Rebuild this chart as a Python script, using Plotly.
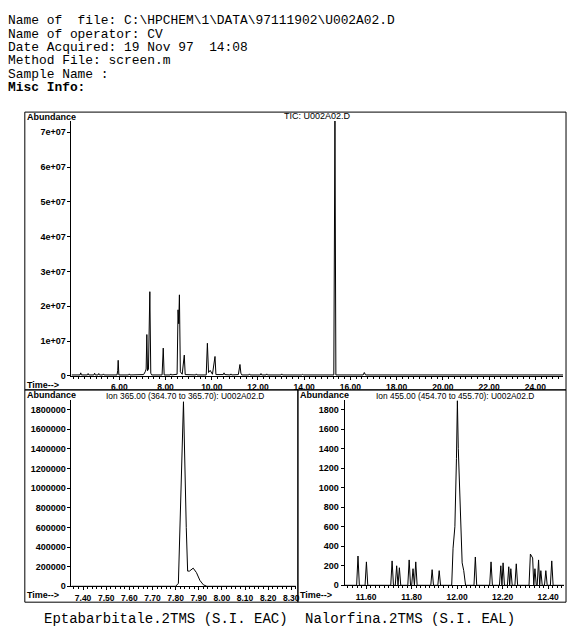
import plotly.graph_objects as go

W, H = 573, 629

# ---------------- data ----------------
header_lines = [
    "Name of  file: C:\\HPCHEM\\1\\DATA\\97111902\\U002A02.D",
    "Name of operator: CV",
    "Date Acquired: 19 Nov 97  14:08",
    "Method File: screen.m",
    "Sample Name :",
]
header_misc = "Misc Info:"

tic_title = "TIC: U002A02.D"
ion1_title = "Ion 365.00 (364.70 to 365.70): U002A02.D"
ion2_title = "Ion 455.00 (454.70 to 455.70): U002A02.D"
caption_left = "Eptabarbitale.2TMS (S.I. EAC)"
caption_right = "Nalorfina.2TMS (S.I. EAL)"

# TIC chromatogram vertices (min, abundance)
tic_time = [3.93, 4.30, 4.33, 4.36, 4.62, 4.65, 4.68, 4.90, 4.93, 4.96, 5.08, 5.11, 5.14,
            5.28, 5.31, 5.34, 5.90, 5.93, 5.95, 5.98, 6.40, 6.43, 6.46, 6.80, 6.83, 6.86,
            7.05, 7.12, 7.16, 7.19, 7.22, 7.26, 7.32, 7.36, 7.40, 7.85, 7.90, 7.94,
            8.20, 8.23, 8.26, 8.50, 8.54, 8.57, 8.60, 8.64, 8.72, 8.81, 8.85,
            9.30, 9.33, 9.36, 9.76, 9.81, 9.86, 9.93, 9.98, 10.03, 10.14, 10.18,
            10.50, 10.53, 10.56, 10.80, 10.83, 10.86, 11.15, 11.22, 11.26, 11.30,
            11.60, 11.63, 11.66, 12.10, 12.13, 12.16, 12.35, 12.38, 12.41, 13.00, 13.03, 13.06,
            13.90, 13.93, 13.96, 14.70, 14.73, 14.76, 15.28, 15.33, 15.37,
            16.55, 16.60, 16.65, 17.50, 17.53, 17.56, 19.00, 19.03, 19.06, 25.20]
tic_abund = [3e5, 3e5, 9e5, 3e5, 3e5, 7e5, 3e5, 3e5, 8e5, 3e5, 3e5, 7e5, 3e5,
             3e5, 6e5, 3e5, 3e5, 1.5e6, 4.5e6, 3e5, 3e5, 6e5, 3e5, 3e5, 5e5, 3e5,
             4e5, 1.2e6, 2.0e6, 1.19e7, 1.5e6, 2.0e6, 2.42e7, 8e5, 3e5, 3e5, 8.0e6, 3e5,
             3e5, 6e5, 3e5, 5e5, 1.9e7, 1.5e7, 2.33e7, 1.2e6, 5e5, 6.0e6, 4e5,
             3e5, 6e5, 3e5, 3e5, 9.4e6, 1.0e6, 1.6e6, 8e5, 5e5, 5.6e6, 4e5,
             4e5, 9e5, 4e5, 3e5, 6e5, 3e5, 4e5, 3.3e6, 8e5, 3e5,
             3e5, 6e5, 3e5, 3e5, 7e5, 3e5, 3e5, 6e5, 3e5, 3e5, 6e5, 3e5,
             3e5, 5e5, 3e5, 3e5, 5e5, 3e5, 3e5, 7.35e7, 3e5,
             3e5, 1.0e6, 3e5, 3e5, 5e5, 3e5, 3e5, 4e5, 3e5, 3e5]

# Ion 365 vertices
ion365_time = [7.35, 7.800, 7.812, 7.822, 7.834, 7.846, 7.852, 7.860, 7.876, 7.890, 7.905, 7.920, 7.935, 8.32]
ion365_abund = [0, 0, 3e4, 8e5, 1.88e6, 6e5, 1.55e5, 1.55e5, 1.85e5, 1.4e5, 6e4, 1.5e4, 0, 0]

# Ion 455 vertices
ion455_time = [11.505, 11.558, 11.564, 11.570, 11.595, 11.601, 11.607,
               11.708, 11.714, 11.720, 11.728, 11.734, 11.740, 11.746, 11.752,
               11.783, 11.789, 11.795, 11.800, 11.806, 11.812, 11.818, 11.824,
               11.884, 11.890, 11.896, 11.915, 11.921, 11.927,
               11.976, 11.982, 11.990, 11.997, 12.001, 12.005, 12.011, 12.022, 12.029, 12.037,
               12.074, 12.080, 12.086, 12.143, 12.149, 12.155,
               12.186, 12.192, 12.197, 12.202, 12.208, 12.221, 12.227, 12.231, 12.236, 12.242,
               12.254, 12.260, 12.266, 12.316, 12.322, 12.332, 12.337, 12.342, 12.348,
               12.352, 12.358, 12.363, 12.368, 12.374, 12.384, 12.390, 12.396,
               12.410, 12.416, 12.422, 12.470]
ion455_abund = [0, 0, 300, 0, 0, 240, 0,
                0, 250, 0, 0, 200, 0, 180, 0,
                0, 260, 0, 0, 170, 0, 240, 0,
                0, 160, 0, 0, 150, 0,
                0, 380, 600, 1300, 1890, 1400, 1040, 230, 150, 0,
                0, 290, 0, 0, 240, 0,
                0, 200, 0, 230, 0, 0, 190, 0, 170, 0,
                0, 220, 0, 0, 320, 280, 0, 170, 0,
                0, 260, 0, 150, 0, 0, 150, 0,
                0, 250, 0, 0]

tic_xticks = [6, 8, 10, 12, 14, 16, 18, 20, 22, 24]
tic_yticks = [0, 1e7, 2e7, 3e7, 4e7, 5e7, 6e7, 7e7]
tic_ytext = ["0", "1e+07", "2e+07", "3e+07", "4e+07", "5e+07", "6e+07", "7e+07"]
ion365_xticks = [7.4, 7.5, 7.6, 7.7, 7.8, 7.9, 8.0, 8.1, 8.2, 8.3]
ion365_yticks = [0, 200000, 400000, 600000, 800000, 1000000, 1200000, 1400000, 1600000, 1800000]
ion455_xticks = [11.6, 11.8, 12.0, 12.2, 12.4]
ion455_yticks = [0, 200, 400, 600, 800, 1000, 1200, 1400, 1600, 1800]

# ---------------- helpers ----------------
def px(x):
    return x / W

def py(y):
    return 1 - y / H

SANS = "Liberation Sans, Arial, sans-serif"
MONO = "Liberation Mono, Courier New, monospace"

fig = go.Figure()
line_style = dict(color="black", width=1)
fig.add_trace(go.Scatter(x=tic_time, y=tic_abund, mode="lines", line=line_style,
                         xaxis="x", yaxis="y", hoverinfo="skip"))
fig.add_trace(go.Scatter(x=ion365_time, y=ion365_abund, mode="lines", line=line_style,
                         xaxis="x2", yaxis="y2", hoverinfo="skip"))
fig.add_trace(go.Scatter(x=ion455_time, y=ion455_abund, mode="lines", line=line_style,
                         xaxis="x3", yaxis="y3", hoverinfo="skip"))

xtickfont = dict(family=SANS, size=8.5, color="black", weight="bold")
ytickfont = dict(family=SANS, size=9, color="black", weight="bold")

def xax(domain, rng, tickvals, fmt, minor_dtick, anchor):
    return dict(domain=domain, range=rng, anchor=anchor, showgrid=False, zeroline=False,
                showline=True, linecolor="black", linewidth=1,
                ticks="outside", ticklen=3, tickcolor="black", tickwidth=1,
                tickvals=tickvals, ticktext=[fmt.format(v) for v in tickvals],
                tickfont=xtickfont,
                minor=dict(ticks="outside", ticklen=2, tickcolor="black", dtick=minor_dtick,
                           tick0=0, showgrid=False))

def yax(domain, rng, tickvals, ticktext, anchor):
    return dict(domain=domain, range=rng, anchor=anchor, showgrid=False, zeroline=False,
                showline=True, linecolor="black", linewidth=1,
                ticks="outside", ticklen=3, tickcolor="black", tickwidth=1,
                tickvals=tickvals, ticktext=ticktext, tickfont=ytickfont)

fig.update_layout(
    width=W, height=H, margin=dict(l=0, r=0, t=0, b=0),
    paper_bgcolor="white", plot_bgcolor="white", showlegend=False,
    xaxis=xax([px(72), px(567)], [3.93, 25.2], tic_xticks, "{:.2f}", 0.25, "y"),
    yaxis=yax([py(379), py(122)], [0, 7.32e7], tic_yticks, tic_ytext, "x"),
    xaxis2=xax([px(72), px(298)], [7.35, 8.32], ion365_xticks, "{:.2f}", 0.02, "y2"),
    yaxis2=yax([py(591), py(403)], [0, 1.9e6], ion365_yticks, [str(v) for v in ion365_yticks], "x2"),
    xaxis3=xax([px(347), px(568)], [11.505, 12.47], ion455_xticks, "{:.2f}", 0.02, "y3"),
    yaxis3=yax([py(590), py(403)], [0, 1900], ion455_yticks, [str(v) for v in ion455_yticks], "x3"),
)

# panel frames
frames = [(25, 113, 570, 393), (25, 393, 300, 607), (300, 393, 570, 607)]
for x0, y0, x1, y1 in frames:
    fig.add_shape(type="rect", xref="paper", yref="paper",
                  x0=px(x0), y0=py(y1), x1=px(x1), y1=py(y0),
                  line=dict(color="black", width=1), fillcolor="rgba(0,0,0,0)")

ann = []
def text(x, y, s, size, family=SANS, anchor="left", weight="normal"):
    ann.append(dict(x=px(x), y=py(y), xref="paper", yref="paper", text=s, showarrow=False,
                    xanchor=anchor, yanchor="middle", borderpad=0,
                    font=dict(family=family, size=size, color="black", weight=weight)))

# header
ys = [21, 34.4, 47.8, 61.2, 74.6]
for yy, s in zip(ys, header_lines):
    text(7, yy, s, 12.9, MONO)
text(7, 88, header_misc, 12.9, MONO, weight="bold")

# panel labels
text(26, 118, "Abundance", 9, weight="bold")
text(320, 117, tic_title, 9, anchor="center")
text(26, 388, "Time-->", 9, weight="bold")
text(26, 398.5, "Abundance", 9, weight="bold")
text(186, 399, ion1_title, 8.4, anchor="center")
text(26, 600, "Time-->", 9, weight="bold")
text(301, 398.5, "Abundance", 9, weight="bold")
text(458, 399, ion2_title, 8.4, anchor="center")
text(301, 600, "Time-->", 9, weight="bold")

# captions
text(43, 624, caption_left, 14, MONO)
text(306, 624, caption_right, 14, MONO)

fig.update_layout(annotations=ann)
fig.write_html("out.html", config={"displayModeBar": False},
               post_script="document.body.style.margin='0';document.body.style.overflow='hidden';")
